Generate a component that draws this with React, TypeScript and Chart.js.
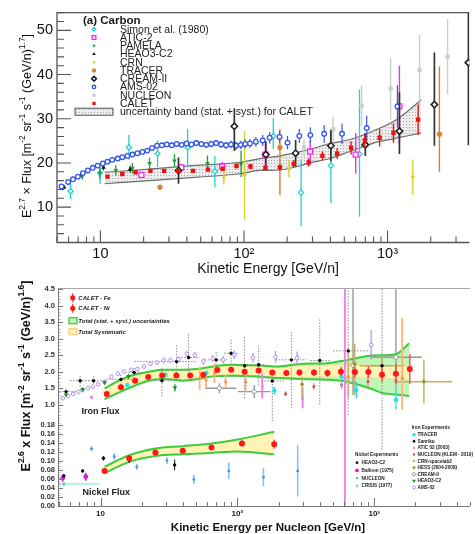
import React, { useEffect, useRef } from 'react';
import { Chart, registerables } from 'chart.js';
import { drawPoint } from 'chart.js/helpers';

Chart.register(...registerables);

const FONT = '"Liberation Sans", Arial, Helvetica, sans-serif';

// ================= TOP PANEL : CARBON =================
const topXTicks = [10, 100, 1000];
const topYTicks = [10, 20, 30, 40, 50];

const simonE = [6.2, 9.95, 15.8, 25, 40.5, 62.7, 160, 250, 403, 638];
const simonV = [13.6, 17.7, 23.5, 22.1, 23.5, 18.1, 26.1, 13.3, 19.4, 22.0];
const simonLo = [1.8, 2.5, 2.8, 3.0, 4.5, 3.6, 3.0, 7.5, 8.5, 14.2];
const simonHi = [1.8, 1.5, 2.8, 3.0, 4.2, 3.5, 4.0, 7.5, 8.3, 14.6];

const aticE = [19.3, 36.6, 70.5, 141, 289, 600, 1210];
const aticV = [17.3, 19.0, 19.2, 21.9, 22.6, 21.9, 32.8];
const aticLo = [0.6, 0.8, 1.0, 2.5, 2.8, 4.3, 8.5];
const aticHi = [0.6, 0.8, 1.0, 2.5, 2.4, 4.9, 9.2];

const pamE = [7.5, 9.9, 12.8, 16.7, 22, 32.8, 55.7, 95.5];
const pamV = [17.2, 17.7, 18.3, 18.8, 19.9, 20.5, 19.9, 19.8];
const pamErr = [1.0, 1.2, 1.2, 1.2, 1.3, 1.5, 1.8, 3.0];

const heaoE = [5.58, 7.4, 10.5, 16.1];
const heaoV = [14.5, 17.3, 19.0, 18.6];
const heaoErr = [0.5, 0.6, 0.7, 0.8];

const crnE = [72.4, 101, 206, 1500];
const crnV = [16.6, 17.2, 18.7, 16.8];
const crnErr = [1.5, 10, 2, 4];

const trE = [26, 178, 2298];
const trV = [14.5, 23.5, 26.5];
const trLo = [0.5, 10.8, 8.6];
const trHi = [0.5, 4.2, 15.3];

const creamE = [35, 85.7, 142, 229, 403, 700, 1210, 2120, 3660];
const creamV = [18.3, 28.3, 21.9, 22.2, 23.9, 24.1, 27.2, 33.2, 42.7];
const creamLo = [3, 5.6, 3, 3, 3.5, 2.5, 5.2, 9.3, 18.7];
const creamHi = [3, 4.1, 3, 3, 3.5, 2.5, 8.8, 11.8, 11.3];

const amsE = [5.36, 5.96, 6.44, 6.97, 7.55, 8.17, 8.85, 9.57, 10.4, 11.2, 12.1, 13.2, 14.2, 15.4, 16.7, 18.1, 19.6, 21.2, 22.9, 24.8,
  26.8, 29.0, 31.4, 34.0, 36.8, 39.8, 43.1, 46.6, 50.5, 54.6, 59.1, 64.0, 69.3, 75.0, 81.2, 87.9, 95, 102,
  110, 121, 135, 151, 177, 201, 243, 290, 362, 482, 716, 1172];
const amsV = [14.7, 15.7, 16.3, 16.9, 17.7, 18.3, 18.9, 19.4, 19.9, 20.3, 20.7, 21.0, 21.3, 21.6, 21.9, 22.2, 22.5, 22.8, 23.4, 23.9,
  24.0, 24.2, 24.0, 24.3, 24.1, 24.4, 24.2, 24.5, 24.3, 24.1, 24.3, 24.5, 24.2, 24.0, 24.2, 23.9, 24.1, 24.3,
  24.4, 24.8, 25.1, 25.7, 25.9, 24.6, 26.1, 26.3, 26.6, 26.6, 27.9, 32.8];
const amsErr = [0.3, 0.3, 0.3, 0.3, 0.3, 0.3, 0.3, 0.3, 0.3, 0.3, 0.3, 0.3, 0.35, 0.35, 0.35, 0.35, 0.4, 0.4, 0.4, 0.4,
  0.45, 0.45, 0.5, 0.5, 0.5, 0.55, 0.55, 0.6, 0.6, 0.65, 0.7, 0.7, 0.75, 0.8, 0.85, 0.9, 0.95, 1.0,
  1.0, 1.1, 1.2, 1.3, 1.4, 1.5, 1.6, 1.8, 2.0, 2.3, 2.8, 4.8];

const nucE = [262, 418, 660, 1050, 1670, 2620];
const nucV = [23.5, 27.6, 33.0, 36.8, 41.0, 44.0];
const nucErr = [2, 2.8, 4.5, 7, 8, 8.5];

const calE = [11.2, 14.2, 17.6, 22.3, 27.8, 34.9, 44.2, 56.1, 71.1, 88.7, 111, 141, 178, 222, 282, 352, 446, 557, 695, 881, 1099, 1633];
const calV = [16.9, 17.5, 17.9, 18.2, 18.2, 18.2, 18.2, 18.5, 18.7, 19.3, 19.2, 18.9, 19.0, 19.8, 20.1, 21.6, 22.1, 23.4, 25.1, 25.7, 26.8, 29.8];
const calErr = [0.3, 0.3, 0.3, 0.3, 0.35, 0.35, 0.4, 0.4, 0.45, 0.5, 0.55, 0.6, 0.7, 0.8, 0.9, 1.0, 1.2, 1.5, 1.7, 2.0, 2.2, 3.5];

const bandE = [10.7, 22, 48, 91, 130, 178, 289, 397, 547, 800, 1153, 1718];
const bandHi = [17.9, 18.6, 19.5, 20.1, 21.0, 21.6, 23.1, 24.4, 25.3, 27.3, 29.8, 34.3];
const bandLo = [15.3, 16.0, 16.8, 17.5, 18.3, 18.4, 20.0, 21.0, 22.6, 24.5, 25.6, 26.8];

// ================= BOTTOM PANEL : IRON / NICKEL =================
const botXTicks = [10, 100, 1000];
const feYTicks = [1.0, 1.5, 2.0, 2.5, 3.0, 3.5, 4.0, 4.5];
const niYTicks = [0, 0.02, 0.04, 0.06, 0.08, 0.1, 0.12, 0.14, 0.16, 0.18];

const calFeE = [11.1, 14.1, 17.9, 22.3, 28.2, 35.8, 45.2, 56.3, 71.4, 90, 113, 143, 180, 228, 284, 363, 455, 571, 722, 906, 1140, 1440, 1820];
const calFeV = [1.33, 1.53, 1.73, 1.84, 1.89, 1.89, 1.89, 1.91, 2.05, 2.06, 2.0, 2.04, 1.98, 1.96, 1.98, 1.98, 1.96, 2.0, 1.99, 1.99, 1.91, 1.94, 2.08];
const calFeErr = [0.04, 0.04, 0.04, 0.04, 0.04, 0.04, 0.05, 0.05, 0.05, 0.06, 0.06, 0.07, 0.07, 0.08, 0.09, 0.1, 0.11, 0.13, 0.15, 0.18, 0.22, 0.3, 0.45];

const feBandE = [10.7, 14.1, 17.6, 22.5, 29, 40, 50, 66.5, 93, 145, 200, 297, 450, 628, 925, 1156, 1440, 1800];
const feTotHi = [1.5, 1.76, 1.91, 2.0, 2.06, 2.06, 2.08, 2.16, 2.21, 2.19, 2.16, 2.24, 2.26, 2.35, 2.48, 2.5, 2.53, 2.86];
const feTotLo = [1.17, 1.4, 1.57, 1.73, 1.78, 1.73, 1.77, 1.86, 1.88, 1.85, 1.81, 1.78, 1.76, 1.7, 1.5, 1.35, 1.31, 1.27];
const feSysHi = [1.48, 1.73, 1.88, 1.97, 2.03, 2.03, 2.05, 2.13, 2.18, 2.16, 2.13, 2.19, 2.2, 2.21, 2.21, 2.19, 2.17, 2.16];
const feSysLo = [1.19, 1.43, 1.6, 1.76, 1.81, 1.76, 1.8, 1.89, 1.91, 1.88, 1.84, 1.83, 1.85, 1.84, 1.82, 1.8, 1.78, 1.76];

const calNiE = [10.7, 16.2, 25.2, 39.9, 64.7, 108, 186];
const calNiV = [0.078, 0.106, 0.119, 0.123, 0.13, 0.139, 0.137];
const calNiErr = [0.003, 0.004, 0.004, 0.004, 0.005, 0.007, 0.01];

const niBandE = [10.7, 16.2, 25.2, 40, 64.7, 101, 186];
const niBandHi = [0.087, 0.113, 0.128, 0.133, 0.139, 0.148, 0.165];
const niBandLo = [0.073, 0.098, 0.111, 0.115, 0.118, 0.121, 0.115];

const amsFeE = [5.3, 5.8, 6.3, 6.9, 7.4, 8.1, 8.8, 9.6, 10.7, 12, 13.4, 14.9, 16.7, 18.6, 20.8, 23.2, 25.9, 28.9, 32.4, 37.2, 42.7, 48.9, 56.4, 66, 78.8, 95, 130, 190, 273, 950];
const amsFeV = [1.2, 1.27, 1.33, 1.4, 1.45, 1.5, 1.55, 1.62, 1.7, 1.85, 1.94, 2.01, 2.06, 2.08, 2.16, 2.24, 2.28, 2.34, 2.34, 2.38, 2.54, 2.51, 2.31, 2.4, 2.36, 2.51, 2.42, 2.45, 2.41, 2.81];
const amsFeErr = [0.05, 0.05, 0.05, 0.05, 0.05, 0.05, 0.05, 0.05, 0.05, 0.06, 0.06, 0.06, 0.06, 0.06, 0.07, 0.07, 0.07, 0.08, 0.08, 0.08, 0.09, 0.09, 0.1, 0.1, 0.12, 0.13, 0.15, 0.18, 0.2, 0.45];

const heFeE = [5.6, 7.4, 10.7, 16, 35];
const heFeV = [1.3, 1.47, 1.67, 1.86, 1.52];
const heFeErr = [0.04, 0.05, 0.06, 0.07, 0.12];

const sanE = [5.6, 7.1, 8.9, 14.1, 17.6, 28.1, 36, 44, 70, 90, 113, 143, 180, 248, 400, 646, 1140];
const sanV = [1.4, 1.73, 1.73, 1.77, 1.98, 1.73, 2.31, 2.43, 2.36, 2.56, 2.18, 2.21, 1.72, 2.36, 2.34, 2.63, 2.18];
const sanYl = [1.3, 1.55, 1.55, 1.6, 1.8, 1.25, 1.95, 1.82, 2.1, 2.2, 1.2, 1.6, 0.5, 0.9, 1.0, 0.7, -0.36];
const sanYh = [1.5, 1.9, 1.92, 1.95, 2.15, 2.16, 2.8, 3.17, 2.6, 3.0, 3.1, 2.8, 2.0, 3.2, 3.6, 5.0, 5.0];
const sanXl = [5.0, 6.0, 7.7, 11, 16, 24, 17.6, 37, 58, 80, 100, 125, 150, 190, 340, 500, 950];
const sanXh = [6.6, 8.6, 10.7, 17.6, 19.5, 33, 50, 53, 84, 100, 127, 162, 220, 320, 470, 920, 1350];

const trFeE = [15.7, 29.8, 59.4, 186, 577, 740, 1440];
const trFeV = [1.6, 1.91, 1.96, 1.43, 1.86, 1.45, 1.15];
const trFeLo = [0.05, 0.06, 0.08, 0.12, 0.35, 0.25, 0.3];
const trFeHi = [0.05, 0.06, 0.08, 0.12, 0.3, 0.25, 0.35];

const aticFeE = [8.6, 152, 300, 611];
const aticFeV = [1.23, 1.55, 1.2, 1.8];
const aticFeYl = [1.2, 1.2, 0.9, -2.2];
const aticFeYh = [1.26, 1.95, 1.55, 5.0];

const klemE = [225, 362, 577, 900, 1440];
const klemV = [1.33, 1.55, 1.6, 1.7, 1.73];
const klemErr = [0.08, 0.1, 0.12, 0.18, 0.25];

const crnFeE = [53, 59, 68, 82, 115, 646, 1600];
const crnFeV = [1.8, 1.75, 1.96, 1.7, 1.69, 1.86, 1.81];
const crnFeYl = [1.45, 1.5, 1.66, 1.5, 1.39, 1.21, 0.85];
const crnFeYh = [2.15, 2.0, 2.26, 1.9, 1.99, 2.72, 3.62];

const hessE = [297, 720, 1140, 2307];
const hessV = [1.62, 2.23, 2.18, 1.7];
const hessYl = [1.2, 1.3, 1.9, 1.05];
const hessYh = [1.85, 2.85, 2.5, 2.36];
const hessXl = [NaN, NaN, 780, 1440];
const hessXh = [NaN, NaN, 1650, 3700];

const creamFeE = [74, 133, 700, 1440];
const creamFeV = [1.5, 1.4, 2.2, 2.44];
const creamFeYl = [1.35, 1.2, 1.3, 1.9];
const creamFeYh = [1.65, 1.6, 5.0, 5.0];
const creamFeXl = [58, 101, NaN, 935];
const creamFeXh = [98, 175, NaN, 2230];

const heNiE = [5.4, 7.4, 10.5, 16.2, 34.8];
const heNiV = [0.067, 0.078, 0.106, 0.102, 0.091];
const heNiErr = [0.004, 0.004, 0.005, 0.006, 0.012];

const balE = [5.3, 7.8];
const balV = [0.062, 0.065];
const balErr = [0.008, 0.009];

const nucNiE = [8.6, 12.6, 18.4, 30.6, 48.1, 86.6, 155, 276];
const nucNiV = [0.127, 0.11, 0.087, 0.101, 0.059, 0.078, 0.064, 0.078];
const nucNiErr = [0.006, 0.007, 0.007, 0.008, 0.01, 0.018, 0.02, 0.057];

const crisE = [5.4];
const crisV = [0.049];
const crisErr = [0.005];
const crisXl = [4.89];
const crisXh = [9.8];

// ================= helpers =================
function rel(E: number[], V: number[], lo?: number[], hi?: number[], xl?: number[], xh?: number[]) {
  return E.map((e, i) => {
    const p: any = { x: e, y: V[i] };
    if (lo) { p.yl = V[i] - lo[i]; p.yh = V[i] + (hi ? hi[i] : lo[i]); }
    if (xl && xh && !isNaN(xl[i])) { p.xl = xl[i]; p.xh = xh[i]; }
    return p;
  });
}
function absB(E: number[], V: number[], yl: number[], yh: number[], xl?: number[], xh?: number[]) {
  return E.map((e, i) => {
    const p: any = { x: e, y: V[i], yl: yl[i], yh: yh[i] };
    if (xl && xh && !isNaN(xl[i])) { p.xl = xl[i]; p.xh = xh[i]; }
    return p;
  });
}
function line(E: number[], V: number[]) { return E.map((e, i) => ({ x: e, y: V[i] })); }

function sc(label: string, data: any[], s: any, yAxisID = 'y', order = 10) {
  return {
    type: 'scatter', label, data, showLine: false, yAxisID, xAxisID: 'x', order,
    pointStyle: s.style, pointRadius: s.r, pointRotation: s.rot || 0,
    pointBackgroundColor: s.bg, pointBorderColor: s.bc || s.bg, pointBorderWidth: s.bw || 0,
    backgroundColor: s.bg, borderColor: s.bc || s.bg,
    errColor: s.ec, errWidth: s.ew || 1, errDash: s.dash, errNoClip: s.noclip,
  };
}
function bandLine(data: any[], o: any) {
  return {
    type: 'line', data, showLine: true, pointRadius: 0, xAxisID: 'x', yAxisID: o.y || 'y',
    borderColor: o.bc || 'rgba(0,0,0,0)', borderWidth: o.bw || 1, backgroundColor: o.fillColor || 'rgba(0,0,0,0)',
    fill: o.fill || false, cubicInterpolationMode: 'monotone', order: o.order,
  };
}

function decadeLabel(v: any) {
  const l = Math.log10(Number(v));
  if (Math.abs(l - Math.round(l)) < 1e-9) {
    const n = Math.round(l);
    if (n === 1) return '10';
    if (n === 2) return '10²';
    if (n === 3) return '10³';
  }
  return '';
}

function marker(ctx: any, s: any, x: number, y: number, scale = 1) {
  ctx.save();
  ctx.fillStyle = s.bg;
  ctx.strokeStyle = s.bc || s.bg;
  ctx.lineWidth = s.bw || 0;
  drawPoint(ctx, { pointStyle: s.style, radius: s.r * scale, rotation: s.rot || 0, borderWidth: s.bw || 0 }, x, y);
  ctx.restore();
}

function rich(ctx: any, segs: [string, boolean][], cx: number, cy: number, size: number, weight: string, rotate: boolean, color = '#111') {
  ctx.save();
  ctx.translate(cx, cy);
  if (rotate) ctx.rotate(-Math.PI / 2);
  const bf = `${weight} ${size}px ${FONT}`;
  const sf = `${weight} ${(size * 0.68).toFixed(2)}px ${FONT}`;
  let w = 0;
  for (const [t, s] of segs) { ctx.font = s ? sf : bf; w += ctx.measureText(t).width; }
  let xx = -w / 2;
  ctx.textAlign = 'left';
  ctx.textBaseline = 'alphabetic';
  ctx.fillStyle = color;
  const base = size * 0.36;
  for (const [t, s] of segs) {
    ctx.font = s ? sf : bf;
    ctx.fillText(t, xx, s ? base - size * 0.42 : base);
    xx += ctx.measureText(t).width;
  }
  ctx.restore();
}

const errorBars = {
  id: 'errorBars',
  beforeDatasetDraw(chart: any, args: any) {
    const ds = chart.data.datasets[args.index];
    if (!ds.errColor) return;
    const xs = args.meta.xScale, ys = args.meta.yScale;
    const ca = chart.chartArea;
    const ctx = chart.ctx;
    ctx.save();
    ctx.beginPath();
    if (ds.errNoClip) ctx.rect(ca.left, ca.top, ca.right - ca.left, ca.bottom - ca.top);
    else ctx.rect(ca.left, ys.top, ca.right - ca.left, ys.bottom - ys.top);
    ctx.clip();
    ctx.strokeStyle = ds.errColor;
    ctx.lineWidth = ds.errWidth || 1;
    ctx.setLineDash(ds.errDash || []);
    ctx.beginPath();
    for (const p of ds.data) {
      const px = xs.getPixelForValue(p.x);
      const py = ys.getPixelForValue(p.y);
      if (p.yl !== undefined) { ctx.moveTo(px, ys.getPixelForValue(p.yl)); ctx.lineTo(px, ys.getPixelForValue(p.yh)); }
      if (p.xl !== undefined) { ctx.moveTo(xs.getPixelForValue(p.xl), py); ctx.lineTo(xs.getPixelForValue(p.xh), py); }
    }
    ctx.stroke();
    ctx.restore();
  },
};

// ================= styles =================
const TS: any = {
  simon: { style: 'rectRot', r: 2.6, bg: '#ffffff', bc: '#1fd0d0', bw: 1.2, ec: '#1fd0d0', ew: 1.3 },
  atic: { style: 'rect', r: 3.5, bg: '#ffffff', bc: '#ff20ff', bw: 1.3, ec: '#ff20ff', ew: 1.4 },
  pamela: { style: 'triangle', rot: 180, r: 2.7, bg: '#239a3a', ec: '#239a3a', ew: 1.3 },
  heao: { style: 'triangle', r: 2.7, bg: '#111111', ec: '#111111', ew: 1 },
  crn: { style: 'triangle', rot: 180, r: 2.7, bg: '#d8cf2a', ec: '#d8cf2a', ew: 1.4 },
  tracer: { style: 'star', r: 2.8, bg: '#d9822b', bc: '#d9822b', bw: 1.5, ec: '#d9822b', ew: 1.4 },
  cream: { style: 'rectRot', r: 3.2, bg: '#ffffff', bc: '#222222', bw: 1.6, ec: '#333333', ew: 1.7 },
  ams: { style: 'circle', r: 2.3, bg: '#ffffff', bc: '#3355ee', bw: 1.3, ec: '#3355ee', ew: 1.2 },
  nucleon: { style: 'rect', r: 3.0, bg: '#cdcdcd', ec: '#cdcdcd', ew: 1.4 },
  calet: { style: 'rect', r: 3.1, bg: '#ee1111', ec: '#ee1111', ew: 1.4 },
};

const BS: any = {
  calet: { style: 'circle', r: 3.0, bg: '#ff1818', ec: '#ff4848', ew: 1.4 },
  ams: { style: 'circle', r: 1.8, bg: '#ffffff', bc: '#b58cf5', bw: 1, ec: '#b58cf5', ew: 1.2 },
  heao: { style: 'triangle', rot: 180, r: 2.6, bg: '#1b8a2a', ec: '#1b8a2a', ew: 1 },
  san: { style: 'circle', r: 1.7, bg: '#000000', ec: '#8a8a8a', ew: 1, dash: [1.5, 1.5], noclip: true },
  tracer: { style: 'circle', r: 2.2, bg: '#1fe0f5', ec: '#1fe0f5', ew: 1.3 },
  atic: { style: 'rect', r: 2, bg: '#f080f0', ec: '#f27af2', ew: 1.8, noclip: true },
  klem: { style: 'rect', r: 1.8, bg: '#c84848', ec: '#e08a8a', ew: 1.3 },
  crn: { style: 'triangle', r: 2.2, bg: '#ff8a30', ec: '#ffb27a', ew: 1.8 },
  hess: { style: 'circle', r: 1.8, bg: '#a0922a', ec: '#c4b55e', ew: 1.5 },
  cream: { style: 'rectRot', r: 2.6, bg: '#ffffff', bc: '#888888', bw: 1, ec: '#9a9a9a', ew: 1.4 },
  heNi: { style: 'circle', r: 1.7, bg: '#111111', ec: '#111111', ew: 1 },
  bal: { style: 'circle', r: 2.4, bg: '#d81cd8', ec: '#d81cd8', ew: 1.4 },
  nucNi: { style: 'circle', r: 1.4, bg: '#3a96f0', ec: '#8cc0f5', ew: 1.6 },
  cris: { style: 'triangle', rot: 180, r: 2.4, bg: '#3fe0a0', ec: '#8af0c8', ew: 1.3 },
};

// ================= TOP CHART =================
function topConfig(pattern: any) {
  const series: [string, any[], any, number][] = [
    ['Simon et al. (1980)', rel(simonE, simonV, simonLo, simonHi), TS.simon, 9],
    ['ATIC-2', rel(aticE, aticV, aticLo, aticHi), TS.atic, 8],
    ['PAMELA', rel(pamE, pamV, pamErr), TS.pamela, 7],
    ['HEAO3-C2', rel(heaoE, heaoV, heaoErr), TS.heao, 7],
    ['CRN', rel(crnE, crnV, crnErr), TS.crn, 7],
    ['TRACER', rel(trE, trV, trLo, trHi), TS.tracer, 7],
    ['CREAM-II', rel(creamE, creamV, creamLo, creamHi), TS.cream, 3],
    ['AMS-02', rel(amsE, amsV, amsErr), TS.ams, 6],
    ['NUCLEON', rel(nucE, nucV, nucErr), TS.nucleon, 8],
    ['CALET', rel(calE, calV, calErr), TS.calet, 1],
  ];
  const datasets: any[] = [
    bandLine(line(bandE, bandHi), { fill: '+1', fillColor: pattern, bc: '#6e6e6e', bw: 1.2, order: 21 }),
    bandLine(line(bandE, bandLo), { bc: '#6e6e6e', bw: 1.2, order: 20 }),
    ...series.map(([l, d, s, o]) => sc(l, d, s, 'y', o)),
  ];

  const decor = {
    id: 'topDecor',
    afterDatasetsDraw(chart: any) {
      const { ctx, chartArea: ca, scales } = chart;
      const x = scales.x, y = scales.y;
      ctx.save();
      ctx.strokeStyle = '#555';
      ctx.lineWidth = 1.3;
      ctx.beginPath();
      ctx.moveTo(ca.right, ca.top); ctx.lineTo(ca.left, ca.top); ctx.lineTo(ca.left, ca.bottom); ctx.lineTo(ca.right, ca.bottom);
      ctx.stroke();
      ctx.lineWidth = 1.1;
      ctx.beginPath();
      for (let v = 4; v <= 54; v += 2) {
        const py = y.getPixelForValue(v);
        const len = topYTicks.includes(v) ? 14 : 7;
        ctx.moveTo(ca.left, py); ctx.lineTo(ca.left + len, py);
      }
      for (let d = 1; d <= 1000; d *= 10) {
        for (let k = 1; k <= 9; k++) {
          const v = k * d;
          if (v < x.min || v > x.max) continue;
          const px = x.getPixelForValue(v);
          const len = topXTicks.includes(v) ? 12 : 6;
          ctx.moveTo(px, ca.bottom); ctx.lineTo(px, ca.bottom - len);
        }
      }
      ctx.stroke();
      ctx.restore();
    },
    afterDraw(chart: any) {
      const ctx = chart.ctx;
      rich(ctx, [['E', false], ['2.7', true], [' × Flux [m', false], ['-2', true], [' sr', false], ['-1', true], [' s', false], ['-1', true], [' (GeV/n)', false], ['1.7', true], [']', false]], 26, 126, 12.5, 'normal', true);
      rich(ctx, [['Kinetic Energy [GeV/n]', false]], 268, 267.5, 14, 'normal', false);
      // legend
      ctx.save();
      ctx.fillStyle = '#1a1a1a';
      ctx.font = `bold 11.5px ${FONT}`;
      ctx.textBaseline = 'middle';
      ctx.textAlign = 'left';
      ctx.fillText('(a) Carbon', 83, 21);
      ctx.font = `10.5px ${FONT}`;
      const y0 = 29.3, step = 8.24;
      series.forEach(([l, , s], i) => {
        const yy = y0 + i * step;
        marker(ctx, s, 94, yy, 0.75);
        ctx.fillStyle = '#222';
        ctx.fillText(l, 120, yy + 0.5);
      });
      const yb = y0 + series.length * step;
      ctx.fillStyle = pattern;
      ctx.fillRect(75, yb - 3.5, 38, 7);
      ctx.strokeStyle = '#555';
      ctx.lineWidth = 1;
      ctx.strokeRect(75, yb - 3.5, 38, 7);
      ctx.fillStyle = '#222';
      ctx.fillText('uncertainty band (stat. + syst.) for CALET', 120, yb + 0.5);
      ctx.restore();
    },
  };

  return {
    type: 'scatter',
    data: { datasets },
    options: {
      responsive: false, animation: false, devicePixelRatio: 1, events: [],
      layout: { padding: { top: 10, left: 0, right: 0, bottom: 0 } },
      plugins: { legend: { display: false }, tooltip: { enabled: false }, title: { display: false } },
      scales: {
        x: {
          type: 'logarithmic', min: 4.985, max: 3717,
          grid: { display: false, drawTicks: false }, border: { display: false },
          ticks: { autoSkip: false, maxRotation: 0, minRotation: 0, padding: 3, color: '#111', font: { family: FONT, size: 14.5 }, callback: decadeLabel },
          afterFit: (s: any) => { s.height = 37.5; },
        },
        y: {
          type: 'linear', min: 2, max: 54,
          grid: { display: false, drawTicks: false }, border: { display: false },
          afterBuildTicks: (s: any) => { s.ticks = topYTicks.map((v) => ({ value: v })); },
          ticks: { autoSkip: false, padding: 4, color: '#111', font: { family: FONT, size: 14.5 }, callback: (v: any) => String(v) },
          afterFit: (s: any) => { s.width = 57; },
        },
      },
    },
    plugins: [errorBars, decor],
  };
}

// ================= BOTTOM CHART =================
function botConfig() {
  const ironSeries: [string, any[], any, number][] = [
    ['TRACER', rel(trFeE, trFeV, trFeLo, trFeHi), BS.tracer, 6],
    ['Sanriku', absB(sanE, sanV, sanYl, sanYh, sanXl, sanXh), BS.san, 7],
    ['ATIC 02 (2003)', absB(aticFeE, aticFeV, aticFeYl, aticFeYh), BS.atic, 8],
    ['NUCLEON (KLEM - 2019)', rel(klemE, klemV, klemErr), BS.klem, 6],
    ['CRN-spacelab2', absB(crnFeE, crnFeV, crnFeYl, crnFeYh), BS.crn, 7],
    ['HESS (2004-2008)', absB(hessE, hessV, hessYl, hessYh, hessXl, hessXh), BS.hess, 7],
    ['CREAM-II', absB(creamFeE, creamFeV, creamFeYl, creamFeYh, creamFeXl, creamFeXh), BS.cream, 7],
    ['HEAO3-C2', rel(heFeE, heFeV, heFeErr), BS.heao, 5],
    ['AMS-02', rel(amsFeE, amsFeV, amsFeErr), BS.ams, 5],
  ];
  const nickelSeries: [string, any[], any, number][] = [
    ['HEAO3-C2', rel(heNiE, heNiV, heNiErr), BS.heNi, 5],
    ['Balloon (1975)', rel(balE, balV, balErr), BS.bal, 5],
    ['NUCLEON', rel(nucNiE, nucNiV, nucNiErr), BS.nucNi, 5],
    ['CRISIS (1977)', rel(crisE, crisV, crisErr, undefined, crisXl, crisXh), BS.cris, 5],
  ];
  const datasets: any[] = [
    bandLine(line(feBandE, feTotHi), { y: 'yFe', fill: '+1', fillColor: '#c2f5b8', order: 31 }),
    bandLine(line(feBandE, feTotLo), { y: 'yFe', order: 30.9 }),
    bandLine(line(feBandE, feSysHi), { y: 'yFe', fill: '+1', fillColor: '#fff4b6', bc: '#f2dc96', bw: 0.8, order: 30 }),
    bandLine(line(feBandE, feSysLo), { y: 'yFe', bc: '#f2dc96', bw: 0.8, order: 29.9 }),
    bandLine(line(feBandE, feTotHi), { y: 'yFe', bc: '#3dcc3d', bw: 2, order: 29 }),
    bandLine(line(feBandE, feTotLo), { y: 'yFe', bc: '#3dcc3d', bw: 2, order: 29 }),
    bandLine(line(niBandE, niBandHi), { y: 'yNi', fill: '+1', fillColor: '#fff4b6', bc: '#3dcc3d', bw: 2, order: 28 }),
    bandLine(line(niBandE, niBandLo), { y: 'yNi', bc: '#3dcc3d', bw: 2, order: 27.9 }),
    ...ironSeries.map(([l, d, s, o]) => sc(l, d, s, 'yFe', o)),
    ...nickelSeries.map(([l, d, s, o]) => sc(l, d, s, 'yNi', o)),
    sc('CALET - Fe', rel(calFeE, calFeV, calFeErr), BS.calet, 'yFe', 1),
    sc('CALET - Ni', rel(calNiE, calNiV, calNiErr), BS.calet, 'yNi', 1),
  ];

  const decor = {
    id: 'botDecor',
    afterDatasetsDraw(chart: any) {
      const { ctx, chartArea: ca, scales } = chart;
      const x = scales.x, yF = scales.yFe, yN = scales.yNi;
      ctx.save();
      ctx.lineWidth = 1;
      // minor ticks
      ctx.strokeStyle = '#c4c4c4';
      ctx.beginPath();
      for (let v = 0.7; v <= 4.5001; v += 0.1) {
        const py = Math.round(yF.getPixelForValue(v)) + 0.5;
        ctx.moveTo(ca.left, py); ctx.lineTo(ca.left + 3, py);
      }
      for (let v = 0.005; v <= 0.1951; v += 0.005) {
        const py = Math.round(yN.getPixelForValue(v)) + 0.5;
        ctx.moveTo(ca.left, py); ctx.lineTo(ca.left + 2.5, py);
      }
      ctx.stroke();
      ctx.strokeStyle = '#777';
      ctx.beginPath();
      for (const v of feYTicks) { const py = Math.round(yF.getPixelForValue(v)) + 0.5; ctx.moveTo(ca.left, py); ctx.lineTo(ca.left + 5, py); }
      for (const v of niYTicks) { const py = Math.round(yN.getPixelForValue(v)) + 0.5; ctx.moveTo(ca.left, py); ctx.lineTo(ca.left + 5, py); }
      for (let d = 1; d <= 1000; d *= 10) {
        for (let k = 1; k <= 9; k++) {
          const v = k * d;
          if (v < x.min || v > x.max) continue;
          const px = Math.round(x.getPixelForValue(v)) + 0.5;
          const len = botXTicks.includes(v) ? 8 : 4;
          ctx.moveTo(px, ca.bottom); ctx.lineTo(px, ca.bottom - len);
        }
      }
      ctx.stroke();
      // frame
      ctx.strokeStyle = '#a8a8a8';
      ctx.beginPath(); ctx.moveTo(ca.left, ca.top + 0.5); ctx.lineTo(ca.right, ca.top + 0.5); ctx.stroke();
      ctx.strokeStyle = '#777';
      ctx.beginPath();
      ctx.moveTo(ca.left + 0.5, ca.top); ctx.lineTo(ca.left + 0.5, ca.bottom + 0.5); ctx.lineTo(ca.right, ca.bottom + 0.5);
      ctx.stroke();
      ctx.restore();
    },
    afterDraw(chart: any) {
      const ctx = chart.ctx;
      rich(ctx, [['E', false], ['2.6', true], [' x Flux [m', false], ['-2', true], [' sr', false], ['-1', true], [' s', false], ['-1', true], [' (GeV/n)', false], ['1.6', true], [']', false]], 25, 96, 12.5, 'bold', true);
      rich(ctx, [['Kinetic Energy per Nucleon [GeV/n]', false]], 268, 246.5, 11.5, 'bold', false);
      ctx.save();
      ctx.textBaseline = 'middle';
      ctx.textAlign = 'left';
      ctx.fillStyle = '#222';
      ctx.font = `bold 9px ${FONT}`;
      ctx.fillText('Iron Flux', 81.5, 131.7);
      ctx.fillText('Nickel Flux', 82.5, 212.7);
      // CALET legend
      ctx.font = `italic bold 6px ${FONT}`;
      [17.7, 28.3].forEach((yy, i) => {
        ctx.strokeStyle = '#ff4848'; ctx.lineWidth = 1.3;
        ctx.beginPath(); ctx.moveTo(72.7, yy - 4.5); ctx.lineTo(72.7, yy + 4.5); ctx.stroke();
        marker(ctx, BS.calet, 72.7, yy, 0.85);
        ctx.fillStyle = '#222';
        ctx.fillText(i === 0 ? 'CALET - Fe' : 'CALET - Ni', 78.3, yy + 0.3);
      });
      ctx.lineWidth = 1.3;
      ctx.fillStyle = '#c2f5b8'; ctx.strokeStyle = '#3dcc3d';
      ctx.fillRect(69, 37.7, 8, 6); ctx.strokeRect(69, 37.7, 8, 6);
      ctx.fillStyle = '#fff1ae'; ctx.strokeStyle = '#f5cf80';
      ctx.fillRect(69, 48.7, 8, 6); ctx.strokeRect(69, 48.7, 8, 6);
      ctx.fillStyle = '#222';
      ctx.fillText('Total (stat. + syst.) uncertainties', 78.3, 40.9);
      ctx.fillText('Total Systematic', 78.3, 51.9);
      // Experiments legends
      ctx.font = `bold 4.7px ${FONT}`;
      ctx.fillText('Nickel Experiments', 355, 175);
      nickelSeries.forEach(([l, , s], i) => {
        const yy = 182.7 + i * 7.7;
        marker(ctx, s, 357, yy, 0.8);
        ctx.fillStyle = '#222';
        ctx.fillText(l, 361.5, yy + 0.2);
      });
      ctx.fillText('Iron Experiments', 411.7, 147.3);
      ironSeries.forEach(([l, , s], i) => {
        const yy = 154.7 + i * 6.6;
        marker(ctx, s, 414, yy, 0.8);
        ctx.fillStyle = '#222';
        ctx.fillText(l, 417.5, yy + 0.2);
      });
      ctx.restore();
    },
  };

  const tickFont = { family: FONT, size: 7.5, weight: 'bold' };
  return {
    type: 'scatter',
    data: { datasets },
    options: {
      responsive: false, animation: false, devicePixelRatio: 1, events: [],
      layout: { padding: { top: 8, left: 0, right: 0, bottom: 0 } },
      plugins: { legend: { display: false }, tooltip: { enabled: false }, title: { display: false } },
      scales: {
        x: {
          type: 'logarithmic', min: 4.89, max: 5010,
          grid: { display: false, drawTicks: false }, border: { display: false },
          ticks: { autoSkip: false, maxRotation: 0, minRotation: 0, padding: 3, color: '#222', font: { family: FONT, size: 8, weight: 'bold' }, callback: decadeLabel },
          afterFit: (s: any) => { s.height = 28; },
        },
        yNi: {
          type: 'linear', position: 'left', stack: 'v', stackWeight: 90, weight: 1, min: 0, max: 0.2,
          grid: { display: false, drawTicks: false }, border: { display: false },
          afterBuildTicks: (s: any) => { s.ticks = niYTicks.map((v) => ({ value: v })); },
          ticks: { autoSkip: false, padding: 3, color: '#333', font: tickFont, callback: (v: any) => Number(v).toFixed(2) },
          afterFit: (s: any) => { s.width = 58; },
        },
        yFe: {
          type: 'linear', position: 'left', stack: 'v', stackWeight: 128, weight: 2, min: 0.663, max: 4.53,
          grid: { display: false, drawTicks: false }, border: { display: false },
          afterBuildTicks: (s: any) => { s.ticks = feYTicks.map((v) => ({ value: v })); },
          ticks: { autoSkip: false, padding: 3, color: '#333', font: tickFont, callback: (v: any) => Number(v).toFixed(1) },
          afterFit: (s: any) => { s.width = 58; },
        },
      },
    },
    plugins: [errorBars, decor],
  };
}

export default function App() {
  const topRef = useRef<HTMLCanvasElement>(null);
  const botRef = useRef<HTMLCanvasElement>(null);
  useEffect(() => {
    const pc = document.createElement('canvas');
    pc.width = 3; pc.height = 3;
    const g = pc.getContext('2d')!;
    g.fillStyle = '#ededed'; g.fillRect(0, 0, 3, 3);
    g.fillStyle = '#a6a6a6'; g.fillRect(1, 1, 1, 1);
    const pattern = topRef.current!.getContext('2d')!.createPattern(pc, 'repeat');
    const c1 = new Chart(topRef.current!, topConfig(pattern) as any);
    const c2 = new Chart(botRef.current!, botConfig() as any);
    return () => { c1.destroy(); c2.destroy(); };
  }, []);
  return (
    <div style={{ position: 'absolute', left: 0, top: 0, width: 475, height: 534, background: '#ffffff' }}>
      <canvas ref={topRef} width={475} height={280} style={{ position: 'absolute', left: 0, top: 0, width: 475, height: 280 }} />
      <canvas ref={botRef} width={475} height={254} style={{ position: 'absolute', left: 0, top: 280, width: 475, height: 254 }} />
    </div>
  );
}
